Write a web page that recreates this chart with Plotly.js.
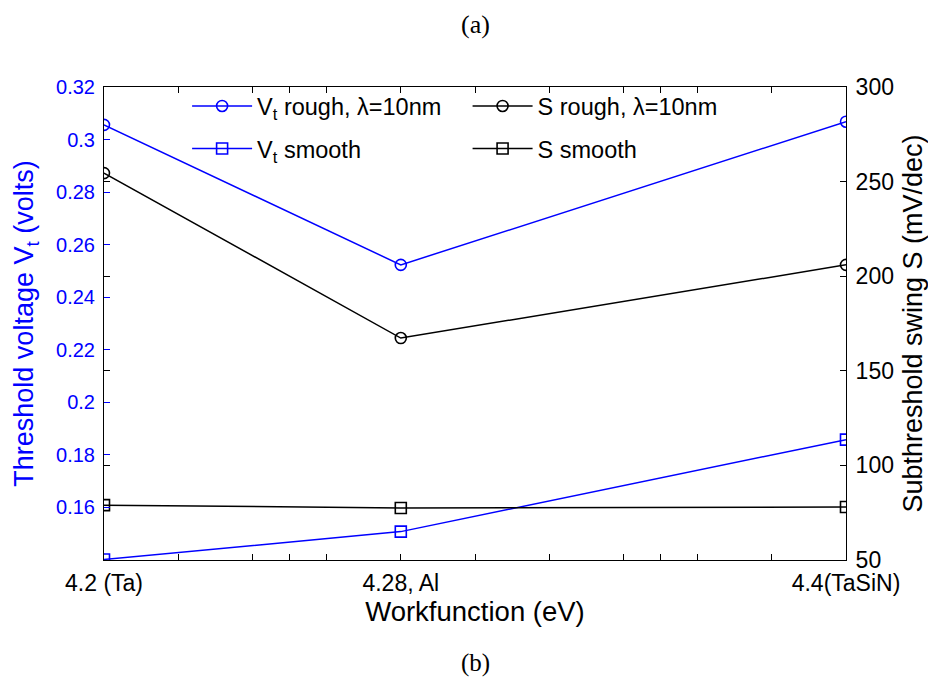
<!DOCTYPE html>
<html>
<head>
<meta charset="utf-8">
<script src="https://cdn.plot.ly/plotly-3.0.1.min.js"></script>
<style>html,body{margin:0;padding:0;background:#fff;}#chart{width:928px;height:684px;}</style>
</head>
<body>
<div id="chart"></div>
<script>
const workfunction = [4.2, 4.28, 4.4];
const tickLabels = ["4.2 (Ta)", "4.28, Al", "4.4(TaSiN)"];
const minorTicks = [4.22, 4.24, 4.25, 4.26, 4.30, 4.32, 4.34, 4.35, 4.36, 4.38];
const vtRough = [0.3056, 0.2523, 0.3068];
const vtSmooth = [0.1402, 0.1508, 0.1858];
const sRough = [254.5, 167.3, 206.0];
const sSmooth = [79.0, 77.5, 78.0];
const leftTicks = [0.16, 0.18, 0.2, 0.22, 0.24, 0.26, 0.28, 0.3, 0.32];
const leftTickText = ["0.16", "0.18", "0.2", "0.22", "0.24", "0.26", "0.28", "0.3", "0.32"];
const rightTicks = [50, 100, 150, 200, 250, 300];

const blue = "#0000ff", black = "#000000";
function tr(y, name, color, sym, axis, leg, grp) {
  return {x: workfunction, y: y, name: name, type: "scatter", mode: "lines+markers",
    yaxis: axis, legend: leg, legendgroup: grp, line: {color: color, width: 1.5},
    marker: {symbol: sym, size: 11, color: color, line: {width: 1.6, color: color}}};
}
const data = [
  tr(vtRough, "V<sub>t</sub> rough, λ=10nm", blue, "circle-open", "y", "legend", "a"),
  tr(vtSmooth, "V<sub>t</sub> smooth", blue, "square-open", "y", "legend", "b"),
  tr(sRough, "S rough, λ=10nm", black, "circle-open", "y2", "legend2", "c"),
  tr(sSmooth, "S smooth", black, "square-open", "y2", "legend2", "d")
];
const f = "Liberation Sans, Arial, sans-serif";
const legBase = {y: 1.006, xanchor: "left", yanchor: "top",
  font: {family: f, size: 23.5, color: "#000"}, bgcolor: "rgba(255,255,255,0)",
  itemwidth: 60, tracegroupgap: 9};
const layout = {
  width: 928, height: 684,
  margin: {l: 104, r: 82, t: 87, b: 124},
  paper_bgcolor: "#fff", plot_bgcolor: "#fff",
  showlegend: true,
  legend: Object.assign({x: 0.112}, legBase),
  legend2: Object.assign({x: 0.49}, legBase),
  xaxis: {range: [4.2, 4.4], tickmode: "array", tickvals: workfunction, ticktext: tickLabels,
    ticks: "inside", ticklen: 6, tickcolor: black, showline: true, linecolor: black, linewidth: 1,
    mirror: "ticks", showgrid: false, zeroline: false, ticklabelstandoff: 2,
    tickfont: {family: f, size: 23, color: black},
    minor: {tickmode: "array", tickvals: minorTicks, ticks: "inside", ticklen: 6, tickcolor: black, showgrid: false},
    title: {text: "Workfunction (eV)", font: {family: f, size: 27.5, color: black}, standoff: 2}},
  yaxis: {range: [0.14, 0.32], tickmode: "array", tickvals: leftTicks, ticktext: leftTickText,
    ticks: "inside", ticklen: 6, tickcolor: blue, showline: true, linecolor: black, linewidth: 1,
    showgrid: false, zeroline: false, tickfont: {family: f, size: 20, color: blue}, ticklabelstandoff: 4,
    title: {text: "Threshold voltage V<sub>t</sub> (volts)", font: {family: f, size: 27, color: blue}, standoff: 14}},
  yaxis2: {range: [50, 300], overlaying: "y", side: "right", tickmode: "array", tickvals: rightTicks,
    ticks: "inside", ticklen: 6, tickcolor: black, showline: true, linecolor: black, linewidth: 1,
    mirror: "ticks", showgrid: false, zeroline: false, tickfont: {family: f, size: 23, color: black},
    ticklabelstandoff: 4,
    title: {text: "Subthreshold swing S (mV/dec)", font: {family: f, size: 27, color: black}, standoff: 10}},
  annotations: [
    {text: "(a)", xref: "paper", yref: "paper", x: 0.5, y: 1, yshift: 79, showarrow: false,
     font: {family: "Liberation Serif, Times New Roman, serif", size: 26, color: black}},
    {text: "(b)", xref: "paper", yref: "paper", x: 0.5, y: 0, yshift: -119, showarrow: false,
     font: {family: "Liberation Serif, Times New Roman, serif", size: 25, color: black}}
  ]
};
Plotly.newPlot("chart", data, layout, {displayModeBar: false});
</script>
</body>
</html>
